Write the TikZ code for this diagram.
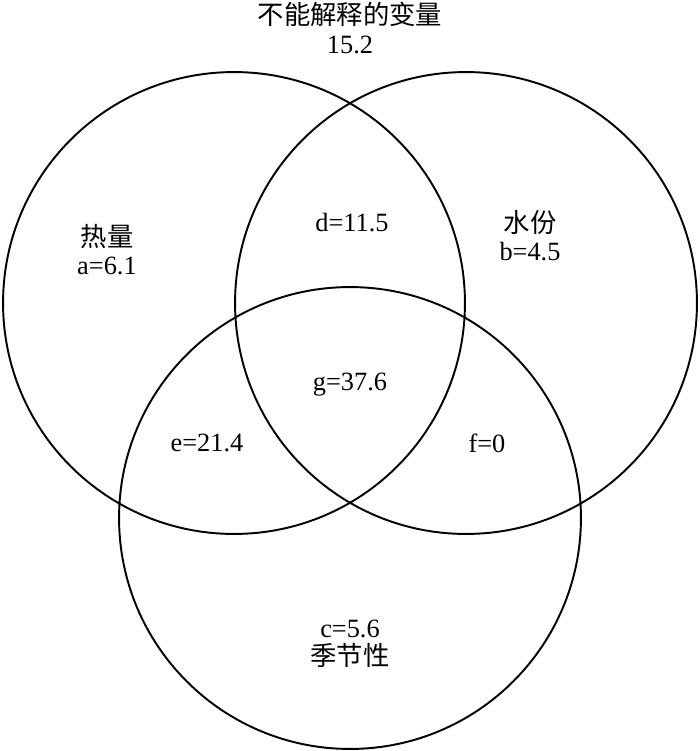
\documentclass[tikz,border=0pt]{standalone}
\usepackage{fontspec}
\setmainfont{Liberation Serif}
\newfontfamily\cjk{Noto Sans CJK SC}
\usetikzlibrary{positioning}

\begin{document}
\begin{tikzpicture}[
    x=0.02cm, y=-0.02cm,
    venncircle/.style={draw, circle, line width=1.1pt, minimum size=9.24cm, inner sep=0pt},
    venntext/.style={font=\fontsize{15}{16}\selectfont, align=center},
]
    \useasboundingbox (0,0) rectangle (700,751);

    % the three sets
    \node[venncircle] (heat) at (234,303) {};
    \node[venncircle] (water) at (466,303) {};
    \node[venncircle] (season) at (350,518) {};

    % unexplained part
    \node[venntext] (rest) at (350,28) {{\cjk 不能解释的变量}\\15.2};

    % parts of each set
    \node[venntext] (a) at (107,250) {{\cjk 热量}\\a=6.1};
    \node[venntext] (b) at (530,236) {{\cjk 水份}\\b=4.5};
    \node[venntext] (c) at (350,644) {c=5.6\\{\cjk 季节性}};
    \node[venntext] (d) at (352,223) {d=11.5};
    \node[venntext] (e) at (207,443) {e=21.4};
    \node[venntext] (f) at (487,443) {f=0};
    \node[venntext] (g) at (350,385) {g=37.6};
\end{tikzpicture}
\end{document}
